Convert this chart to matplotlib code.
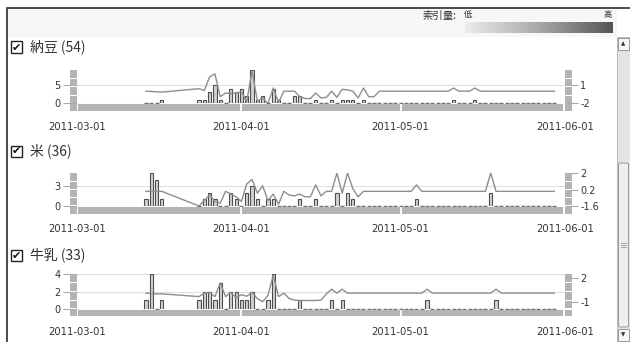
import numpy as np
import matplotlib
matplotlib.use('Agg')
import matplotlib.pyplot as plt
from matplotlib.patches import Rectangle, FancyBboxPatch
from matplotlib.lines import Line2D
from matplotlib.colors import LinearSegmentedColormap

W, H = 630, 342

# ---- data ----
start_date = '2011-03-01'
end_date = '2011-06-01'
day_offsets = [13, 14, 15, 16] + list(range(23, 91))
month_ticks = ['2011-03-01', '2011-04-01', '2011-05-01', '2011-06-01']

titles = ['納豆 (54)', '米 (36)', '牛乳 (33)']

# daily counts (bars, left axis)
counts_natto = [0, 0, 0, 1,
                1, 1, 3, 5, 1, 0, 4, 3, 4, 2,
                9, 1, 2, 0, 4, 1, 0, 0, 2, 2,
                0, 0, 1, 0, 0, 1, 0, 1, 1, 1,
                0, 1, 0, 0, 0, 0, 0, 0, 0, 0,
                0, 0, 0, 0, 0, 0, 0, 0, 1, 0,
                0, 0, 1, 0, 0, 0, 0, 0, 0, 0,
                0, 0, 0, 0, 0, 0, 0, 0]
counts_rice = [1, 5, 4, 1,
               0, 1, 2, 1, 0, 0, 2, 1, 0, 2,
               3, 1, 0, 1, 1, 0, 0, 0, 0, 1,
               0, 0, 1, 0, 0, 0, 2, 0, 2, 1,
               0, 0, 0, 0, 0, 0, 0, 0, 0, 0,
               0, 1, 0, 0, 0, 0, 0, 0, 0, 0,
               0, 0, 0, 0, 0, 2, 0, 0, 0, 0,
               0, 0, 0, 0, 0, 0, 0, 0]
counts_milk = [1, 4, 0, 1,
               1, 2, 2, 1, 3, 0, 2, 2, 1, 1,
               2, 0, 0, 1, 4, 0, 0, 0, 0, 1,
               0, 0, 0, 0, 0, 1, 0, 1, 0, 0,
               0, 0, 0, 0, 0, 0, 0, 0, 0, 0,
               0, 0, 0, 1, 0, 0, 0, 0, 0, 0,
               0, 0, 0, 0, 0, 0, 1, 0, 0, 0,
               0, 0, 0, 0, 0, 0, 0, 0]

# index line (right axis)
index_natto = [0.0, -0.05, -0.1, -0.15,
               0.4, 0.1, 2.3, 2.8, -0.9, -0.3, -0.4, -0.3, -0.1, -1.7,
               3.3, -1.6, -1.1, -2.0, 0.5, -1.8, 0.0, 0.0, 0.0, -0.9,
               -1.2, -1.2, -0.3, -1.1, -1.0, 0.0, -1.0, 0.3, 0.2, 0.0,
               -1.1, 0.5, -0.9, -0.9, 0.0, 0.0, 0.0, 0.0, 0.0, 0.0,
               0.0, 0.0, 0.0, 0.0, 0.0, 0.0, 0.0, 0.0, 0.5, 0.0,
               0.0, 0.0, 0.5, 0.0, 0.0, 0.0, 0.0, 0.0, 0.0, 0.0,
               0.0, 0.0, 0.0, 0.0, 0.0, 0.0, 0.0, 0.0]
index_rice = [0.0, 0.0, 0.0, 0.0,
              -1.6, -1.0, -0.4, -1.1, -1.3, 0.0, -0.3, -0.6, -1.1, 0.8,
              1.3, -0.2, 0.6, -1.0, -0.3, -1.4, 0.0, -0.4, -0.5, -0.3,
              -0.6, -0.6, 0.7, -0.5, 0.0, 0.0, 2.0, -0.2, 2.0, 0.3,
              -0.6, 0.0, 0.0, 0.0, 0.0, 0.0, 0.0, 0.0, 0.0, 0.0,
              0.0, 0.7, 0.0, 0.0, 0.0, 0.0, 0.0, 0.0, 0.0, 0.0,
              0.0, 0.0, 0.0, 0.0, 0.0, 2.0, 0.0, 0.0, 0.0, 0.0,
              0.0, 0.0, 0.0, 0.0, 0.0, 0.0, 0.0, 0.0]
index_milk = [0.1, 0.05, 0.0, 0.0,
              -0.35, 0.1, 0.2, -0.35, 1.4, -0.35, 0.2, -0.5, -0.1, -0.3,
              0.2, -0.6, -1.0, -0.2, 2.4, -0.35, 0.1, -0.6, -0.8, -0.85,
              -0.85, -0.85, -0.85, -0.8, 0.0, 0.6, 0.1, 0.6, 0.1, 0.1,
              0.1, 0.1, 0.1, 0.1, 0.1, 0.1, 0.1, 0.1, 0.1, 0.1,
              0.1, 0.1, 0.1, 0.6, 0.1, 0.1, 0.1, 0.1, 0.1, 0.1,
              0.1, 0.1, 0.1, 0.1, 0.1, 0.1, 0.6, 0.1, 0.1, 0.1,
              0.1, 0.1, 0.1, 0.1, 0.1, 0.1, 0.1, 0.1]

all_counts = [counts_natto, counts_rice, counts_milk]
all_index = [index_natto, index_rice, index_milk]
left_ticks = [[0, 5], [0, 3], [0, 2, 4]]
right_ticks = [[-2, 1], [-1.6, 0.2, 2], [-1, 2]]
left_max = [9, 5, 4]
right_lims = [(-2, 3.43), (-1.6, 2), (-1.94, 2.55)]

# pixel layout: title y, plot top, baseline, band bottom
panel_px = [(47, 70, 103.5, 111.5), (151, 173, 206, 213.5), (255, 274, 309, 316)]

cjk = ['Noto Sans CJK JP', 'DejaVu Sans']
txt_col = '#333333'


def frect(x0, y0, x1, y1):
    return [x0 / W, 1 - y1 / H, (x1 - x0) / W, (y1 - y0) / H]


fig = plt.figure(figsize=(W / 100, H / 100), dpi=100)
fig.patch.set_facecolor('white')


def add_rect(x0, y0, x1, y1, **kw):
    r = Rectangle((x0 / W, 1 - y1 / H), (x1 - x0) / W, (y1 - y0) / H,
                  transform=fig.transFigure, **kw)
    fig.add_artist(r)
    return r


def pt(px):
    return px * 72 / 100


dates = np.datetime64(start_date) + np.array(day_offsets)
xlim = (np.datetime64(start_date), np.datetime64(end_date))

# header
add_rect(8, 9, 617, 37, facecolor='#f7f7f7', edgecolor='none', zorder=0)
fig.text(457 / W, 1 - 16 / H, '索引量:', family=cjk, fontsize=7.5, color=txt_col,
         ha='right', va='center')
fig.text(464 / W, 1 - 15 / H, '低', family=cjk, fontsize=6, color=txt_col, ha='left', va='center')
fig.text(612 / W, 1 - 15 / H, '高', family=cjk, fontsize=6, color=txt_col, ha='right', va='center')
gax = fig.add_axes(frect(465, 22, 612, 33))
grad = LinearSegmentedColormap.from_list('g', ['#ececec', '#a8a8a8', '#555555'])
gax.imshow(np.linspace(0, 1, 256)[None, :], cmap=grad, aspect='auto')
gax.axis('off')

for i in range(3):
    ty, top, base, bbot = panel_px[i]
    counts = np.array(all_counts[i])
    idx = np.array(all_index[i])

    # checkbox
    add_rect(10.5, ty - 5.5, 21.5, ty + 5.5, facecolor='white', edgecolor='#222222',
             linewidth=1.0, zorder=2)
    fig.text(16 / W, 1 - (ty + 0.5) / H, '✔', fontsize=8, color='#111111', ha='center',
             va='center', family='DejaVu Sans', zorder=3)
    fig.text(30 / W, 1 - ty / H, titles[i], family=cjk, fontsize=10, color=txt_col,
             ha='left', va='center')

    ax = fig.add_axes(frect(77, top, 565, base))
    ax.set_xlim(*xlim)
    ax.set_ylim(0, left_max[i])
    nz = counts > 0
    ax.bar(dates[nz], counts[nz], width=0.6, color='#d2d2d2', edgecolor='#4e4e4e',
           linewidth=0.8, zorder=3)
    ax.plot(dates[~nz], counts[~nz], ls='none', marker='_', ms=2.4, mew=1.0,
            color='#707070', zorder=3, clip_on=False)
    ax.set_yticks(left_ticks[i], labels=[f'{t:g}' for t in left_ticks[i]])
    ax.tick_params(axis='y', length=pt(14), width=0.8, color='#aaaaaa', pad=1.5,
                   labelsize=7, labelcolor=txt_col)
    ax.set_xticks([])
    ax.grid(axis='y', color='#e0e0e0', linewidth=0.8)
    ax.set_axisbelow(True)
    for s in ax.spines.values():
        s.set_visible(False)

    ax2 = ax.twinx()
    ax2.set_ylim(*right_lims[i])
    ax2.plot(dates, idx, color='#8e8e8e', linewidth=1.0, zorder=4)
    ax2.set_yticks(right_ticks[i], labels=[f'{t:g}' for t in right_ticks[i]])
    ax2.tick_params(axis='y', length=pt(13), width=0.8, color='#aaaaaa', pad=1.5,
                    labelsize=7, labelcolor=txt_col)
    for s in ax2.spines.values():
        s.set_visible(False)

    # range band with month markers and date labels
    bax = fig.add_axes(frect(77, base + 0.6, 565, bbot))
    bax.set_xlim(*xlim)
    bax.axvspan(xlim[0] + np.timedelta64(4, 'h'), xlim[1] - np.timedelta64(8, 'h'),
                color='#b3b3b3', linewidth=0)
    for m in month_ticks[1:3]:
        bax.axvline(np.datetime64(m), color='white', linewidth=1.3)
    bax.set_yticks([])
    bax.set_xticks([np.datetime64(m) for m in month_ticks], labels=month_ticks)
    bax.tick_params(axis='x', length=0, pad=pt(11), labelsize=7.2, labelcolor=txt_col)
    for s in bax.spines.values():
        s.set_visible(False)

    # side strips
    for sx in (70, 565):
        seg = (base - top) / 4
        for k in range(4):
            add_rect(sx, top + k * seg + (0.6 if k else 0), sx + 6.8, top + (k + 1) * seg - 0.6,
                     facecolor='#b3b3b3', edgecolor='none', zorder=5)
        add_rect(sx, base + 0.6, sx + 6.8, bbot, facecolor='#b3b3b3', edgecolor='none', zorder=5)

# outer frame
fig.add_artist(Line2D([7 / W, 7 / W, 1], [0, 1 - 8 / H, 1 - 8 / H], transform=fig.transFigure,
                      color='#4a4a4a', linewidth=1.4, zorder=6))

# scrollbar
add_rect(617, 37, 630, 342, facecolor='#e4e4e4', edgecolor='#b0b0b0', linewidth=0.6, zorder=6)
add_rect(618, 38, 629, 50, facecolor='#f6f6f6', edgecolor='#8c8c8c', linewidth=0.6, zorder=7)
fig.text(623.5 / W, 1 - 44 / H, '▲', fontsize=4, color='#333333', ha='center', va='center',
         zorder=8)
sax = fig.add_axes(frect(618, 51, 629, 161))
sgrad = LinearSegmentedColormap.from_list('s', ['#c4c4c4', '#8a8a8a', '#5e5e5e'])
sax.imshow(np.linspace(0, 1, 64)[None, :], cmap=sgrad, aspect='auto')
sax.axis('off')
thumb = FancyBboxPatch((618.5 / W, 1 - 327 / H), 10 / W, 164 / H,
                       boxstyle='round,pad=0,rounding_size=0.004', transform=fig.transFigure,
                       facecolor='#eeeeee', edgecolor='#8c8c8c', linewidth=0.6, zorder=7)
fig.add_artist(thumb)
for gy in (243, 245, 247):
    fig.add_artist(Line2D([621 / W, 626 / W], [1 - gy / H, 1 - gy / H], transform=fig.transFigure,
                          color='#9a9a9a', linewidth=0.6, zorder=8))
add_rect(618, 329, 629, 341, facecolor='#f6f6f6', edgecolor='#8c8c8c', linewidth=0.6, zorder=7)
fig.text(623.5 / W, 1 - 335 / H, '▼', fontsize=4, color='#333333', ha='center', va='center',
         zorder=8)

fig.savefig('out.png', dpi=100)
